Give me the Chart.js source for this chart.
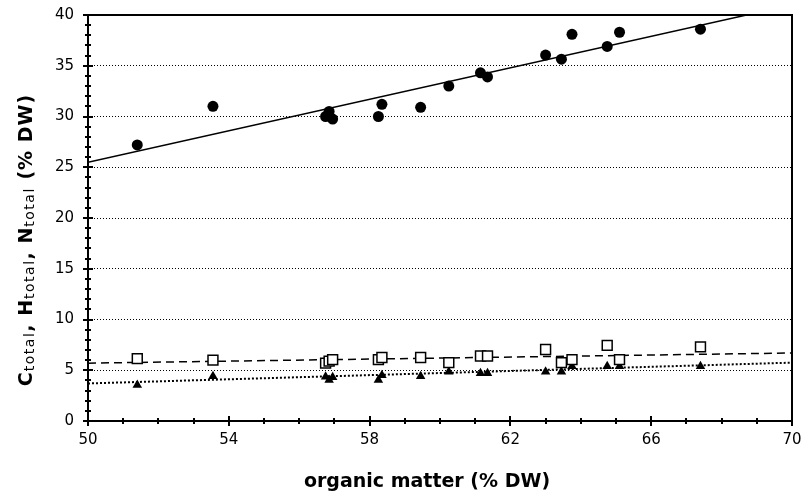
<!DOCTYPE html>
<html>
<head>
<meta charset="utf-8">
<script src="https://cdn.jsdelivr.net/npm/chart.js@4.4.0/dist/chart.umd.min.js"></script>
<style>
  html, body { margin: 0; padding: 0; background: #fff; }
  #wrap { width: 803px; height: 494px; }
</style>
</head>
<body>
<div id="wrap"><canvas id="cnChart"></canvas></div>
<script>
// organic matter of each sample (% DW)
var organicMatter = [51.4, 53.55, 56.75, 56.85, 56.95, 58.25, 58.35, 59.45, 60.25, 61.15, 61.35, 63.0, 63.45, 63.75, 64.75, 65.1, 67.4];
var cTotal = [27.2, 31.0, 30.0, 30.5, 29.75, 30.0, 31.2, 30.9, 33.0, 34.3, 33.9, 36.05, 35.65, 38.1, 36.9, 38.3, 38.6];
var hTotal = [6.15, 6.0, 5.7, 5.9, 6.05, 6.05, 6.25, 6.25, 5.75, 6.4, 6.4, 7.05, 5.75, 6.05, 7.45, 6.05, 7.3];
var nTotal = [3.55, 4.4, 4.35, 4.05, 4.3, 4.05, 4.5, 4.4, 4.85, 4.7, 4.7, 4.85, 4.85, 5.4, 5.4, 5.4, 5.4];

// regression lines: value at each end of the x axis
var trendX = [50, 70];
var cTrend = [25.5, 41.0];
var hTrend = [5.7, 6.7];
var nTrend = [3.7, 5.75];

var xRange = [50, 70];
var yRange = [0, 40];

function pts(xs, ys) {
  return xs.map(function (x, i) { return { x: x, y: ys[i] }; });
}

// frame, crossing ticks and the two axis titles
var frame = {
  id: 'frame',
  afterDatasetsDraw: function (chart) {
    var ctx = chart.ctx, a = chart.chartArea;
    var xs = chart.scales.x, ys = chart.scales.y;
    ctx.save();
    ctx.strokeStyle = '#000';
    ctx.lineWidth = 2;
    ctx.strokeRect(a.left, a.top, a.right - a.left, a.bottom - a.top);

    ctx.beginPath();
    for (var v = xRange[0]; v <= xRange[1]; v++) {
      var px = Math.round(xs.getPixelForValue(v));
      var len = (v - xRange[0]) % 4 == 0 ? 5 : 3;
      ctx.moveTo(px, a.bottom - len);
      ctx.lineTo(px, a.bottom + len);
    }
    for (var w = yRange[0]; w <= yRange[1]; w++) {
      var py = Math.round(ys.getPixelForValue(w));
      var len2 = w % 5 == 0 ? 5 : 3;
      ctx.moveTo(a.left - len2, py);
      ctx.lineTo(a.left + len2, py);
    }
    ctx.stroke();
    ctx.restore();
  },
  afterDraw: function (chart) {
    var ctx = chart.ctx;
    ctx.save();
    ctx.fillStyle = '#000';

    // x title
    ctx.font = 'bold 19px "DejaVu Sans"';
    ctx.textAlign = 'center';
    ctx.textBaseline = 'alphabetic';
    ctx.fillText('organic matter (% DW)', 427, 487);

    // y title with subscripts
    var parts = [
      ['C', false], ['total', true], [', ', false],
      ['H', false], ['total', true], [', ', false],
      ['N', false], ['total', true], [' (% DW)', false]
    ];
    var mainFont = 'bold 19px "DejaVu Sans"', subFont = '14px "DejaVu Sans"';
    function setFont(sub) {
      ctx.font = sub ? subFont : mainFont;
      if ('letterSpacing' in ctx) ctx.letterSpacing = sub ? '1.5px' : '1px';
    }
    var total = 0;
    parts.forEach(function (p) { setFont(p[1]); total += ctx.measureText(p[0]).width; });
    ctx.translate(32, 240);
    ctx.rotate(-Math.PI / 2);
    ctx.textAlign = 'left';
    var x = -total / 2;
    parts.forEach(function (p) {
      setFont(p[1]);
      ctx.fillText(p[0], x, p[1] ? 2 : 0);
      x += ctx.measureText(p[0]).width;
    });
    ctx.restore();
  }
};

Chart.defaults.font.family = '"DejaVu Sans"';
Chart.defaults.color = '#000';

var ctx = document.getElementById('cnChart').getContext('2d');
var cnChart = new Chart(ctx, {
  type: 'scatter',
  data: {
    datasets: [
      {
        label: 'C total',
        data: pts(organicMatter, cTotal),
        pointStyle: 'circle',
        pointRadius: 5.5,
        backgroundColor: '#000',
        borderWidth: 0,
        order: 0
      },
      {
        label: 'H total',
        data: pts(organicMatter, hTotal),
        pointStyle: 'rect',
        pointRadius: 7,
        backgroundColor: '#fff',
        borderColor: '#000',
        borderWidth: 1.5,
        order: 0
      },
      {
        label: 'N total',
        data: pts(organicMatter, nTotal),
        pointStyle: 'triangle',
        pointRadius: 5.5,
        backgroundColor: '#000',
        borderWidth: 0,
        order: 0
      },
      {
        label: 'C trend',
        data: pts(trendX, cTrend),
        showLine: true,
        pointRadius: 0,
        borderColor: '#000',
        borderWidth: 1.5,
        order: 1
      },
      {
        label: 'H trend',
        data: pts(trendX, hTrend),
        showLine: true,
        pointRadius: 0,
        borderColor: '#000',
        borderWidth: 1.5,
        borderDash: [8, 5],
        order: 1
      },
      {
        label: 'N trend',
        data: pts(trendX, nTrend),
        showLine: true,
        pointRadius: 0,
        borderColor: '#000',
        borderWidth: 2,
        borderDash: [2, 2],
        order: 1
      }
    ]
  },
  options: {
    responsive: true,
    maintainAspectRatio: false,
    animation: false,
    layout: { padding: { top: 15, right: 11, left: 0, bottom: 0 } },
    plugins: { legend: { display: false }, tooltip: { enabled: false } },
    scales: {
      x: {
        type: 'linear',
        min: xRange[0],
        max: xRange[1],
        ticks: { stepSize: 4, padding: 10, font: { size: 15 } },
        grid: { display: false, drawTicks: false },
        border: { display: false },
        afterFit: function (s) { s.height = 73; s.paddingLeft = 0; s.paddingRight = 0; }
      },
      y: {
        min: yRange[0],
        max: yRange[1],
        ticks: { stepSize: 5, padding: 14, font: { size: 15 } },
        grid: { color: '#000', lineWidth: 1, drawTicks: false },
        border: { display: false, dash: [1, 2] },
        afterFit: function (s) { s.width = 88; s.paddingTop = 0; s.paddingBottom = 0; }
      }
    }
  },
  plugins: [frame]
});
</script>
</body>
</html>
